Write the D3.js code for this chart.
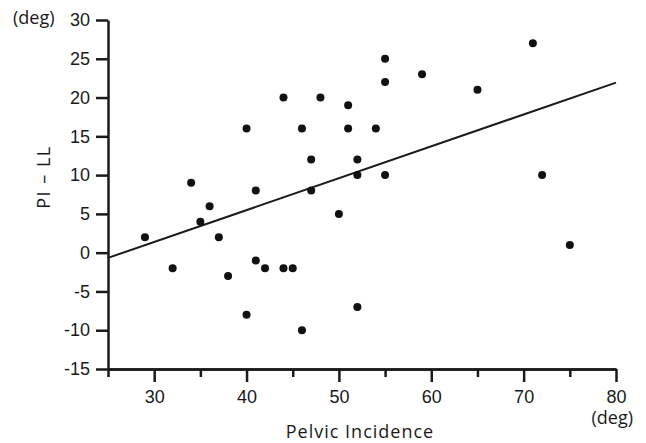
<!DOCTYPE html>
<html>
<head>
<meta charset="utf-8">
<script src="https://cdn.jsdelivr.net/npm/d3@7"></script>
<style>
  body { margin: 0; background: #fff; }
  .tick text { font-family: "Liberation Sans", Arial, sans-serif; font-size: 18px; fill: #1a1a1a; }
  .lbl { font-family: "Open Sans", Lato, sans-serif; fill: #1a1a1a; font-size: 18px; }
</style>
</head>
<body>
<script>
// Pelvic incidence (deg) vs PI - LL (deg)
const pelvicIncidence = [29, 32, 34, 35, 36, 37, 38, 40, 40, 41, 41, 42, 44, 44, 45, 46, 46, 47, 47, 48,
                         50, 51, 51, 52, 52, 52, 54, 55, 55, 55, 59, 65, 71, 72, 75];
const piMinusLL =      [2, -2, 9, 4, 6, 2, -3, 16, -8, 8, -1, -2, 20, -2, -2, 16, -10, 12, 8, 20,
                         5, 19, 16, 12, 10, -7, 16, 25, 22, 10, 23, 21, 27, 10, 1];
const xTicks = [30, 40, 50, 60, 70, 80];
const xMinorTicks = [25, 35, 45, 55, 65, 75];
const yTicks = [-15, -10, -5, 0, 5, 10, 15, 20, 25, 30];
// fitted regression line
const fitSlope = 0.411;
const fitIntercept = -10.95;

const W = 646, H = 443;
const mLeft = 108, mRight = 616, mTop = 20, mBottom = 369;

const svg = d3.select("body").append("svg")
  .attr("width", W)
  .attr("height", H);

const x = d3.scaleLinear().domain([25, 80]).range([mLeft, mRight]);
const y = d3.scaleLinear().domain([-15, 30]).range([mBottom, mTop]);

// plain hyphen for negatives, like the original
const fmt = d => String(d);

// y axis
svg.append("g")
  .attr("transform", `translate(${mLeft},0)`)
  .call(d3.axisLeft(y).tickValues(yTicks).tickFormat(fmt).tickSize(12).tickPadding(6).tickSizeOuter(0));

// x axis, minor ticks first
svg.append("g")
  .attr("transform", `translate(0,${mBottom})`)
  .call(d3.axisBottom(x).tickValues(xMinorTicks).tickSize(8).tickFormat("").tickSizeOuter(0));

svg.append("g")
  .attr("transform", `translate(0,${mBottom})`)
  .call(d3.axisBottom(x).tickValues(xTicks).tickFormat(fmt).tickSize(13).tickPadding(8).tickSizeOuter(0));

svg.selectAll(".domain, .tick line")
  .attr("stroke", "#1a1a1a")
  .attr("stroke-width", 2.5);

// regression line
svg.append("line")
  .attr("x1", x(25)).attr("y1", y(fitSlope * 25 + fitIntercept))
  .attr("x2", x(80)).attr("y2", y(fitSlope * 80 + fitIntercept))
  .attr("stroke", "#1a1a1a")
  .attr("stroke-width", 2);

// points
svg.selectAll("circle")
  .data(pelvicIncidence)
  .enter()
  .append("circle")
  .attr("cx", d => x(d))
  .attr("cy", (d, i) => y(piMinusLL[i]))
  .attr("r", 4)
  .attr("fill", "#111");

// labels
svg.append("text")
  .attr("class", "lbl")
  .attr("x", 13).attr("y", 24)
  .text("(deg)");

svg.append("text")
  .attr("class", "lbl")
  .attr("x", 633).attr("y", 424)
  .attr("text-anchor", "end")
  .text("(deg)");

svg.append("text")
  .attr("class", "lbl")
  .attr("x", 360).attr("y", 438)
  .attr("text-anchor", "middle")
  .attr("letter-spacing", 1)
  .text("Pelvic Incidence");

svg.append("text")
  .attr("class", "lbl")
  .attr("transform", "translate(50,177) rotate(-90)")
  .attr("text-anchor", "middle")
  .attr("letter-spacing", 1.5)
  .text("PI – LL");
</script>
</body>
</html>
